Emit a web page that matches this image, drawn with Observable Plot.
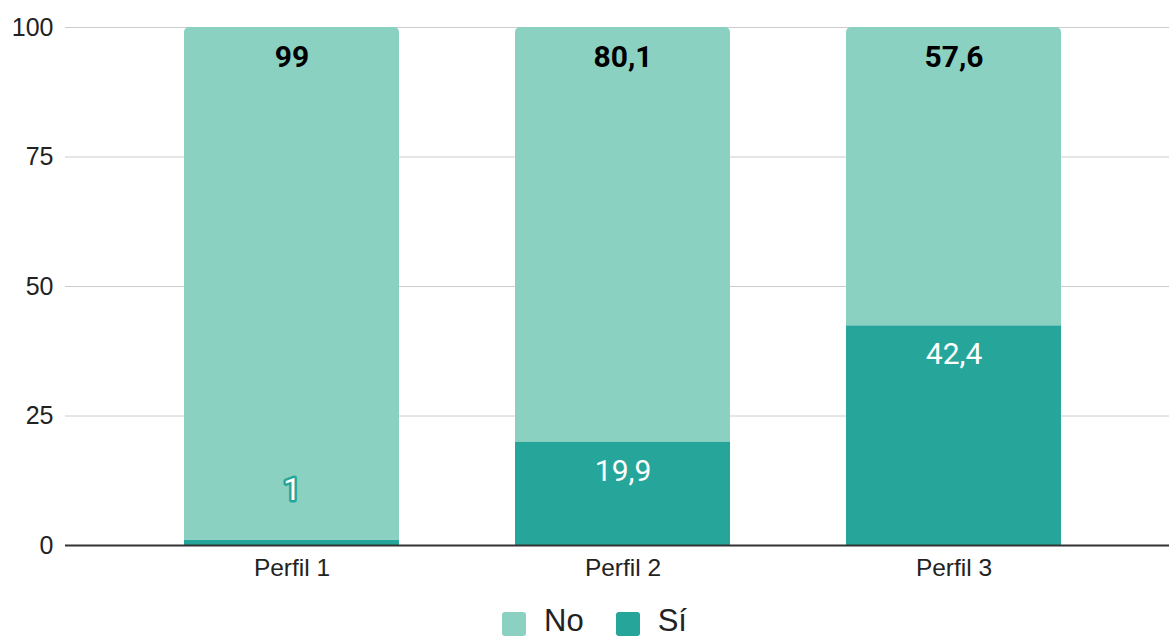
<!DOCTYPE html>
<html>
<head>
<meta charset="utf-8">
<script src="https://cdn.jsdelivr.net/npm/d3@7"></script>
<script src="https://cdn.jsdelivr.net/npm/@observablehq/plot@0.6"></script>
<style>
  html, body { margin: 0; padding: 0; background: #fff; }
  #chart { width: 1169px; }
  .legend { display: flex; justify-content: center; align-items: center; height: 30px; line-height: 30px; margin-top: 6px;
            padding-left: 20px; box-sizing: border-box; width: 1169px;
            font-family: "Liberation Sans", Arial, sans-serif; font-size: 31px; color: #222; }
  .legend .item { display: flex; align-items: center; margin: 0 16px; }
  .legend .sw { width: 24px; height: 24px; border-radius: 3px; margin-right: 18px; position: relative; top: 3px; }
</style>
</head>
<body>
<div id="chart"></div>
<script>
const categories = ["Perfil 1", "Perfil 2", "Perfil 3"];
const siValues = [1, 19.9, 42.4];
const noValues = [99, 80.1, 57.6];
const seriesNames = ["No", "Sí"];
const seriesColors = ["#8bd1c2", "#26a69a"];
const yTicks = [0, 25, 50, 75, 100];

const rows = categories.map((c, i) => ({perfil: c, si: siValues[i], no: noValues[i], total: siValues[i] + noValues[i]}));
const fmt = v => String(v).replace(".", ",");

const W = 1169, H = 600;
const plot = Plot.plot({
  width: W,
  height: H,
  marginLeft: 65,
  marginRight: 0,
  marginTop: 27,
  marginBottom: 55,
  style: {fontFamily: "'Liberation Sans', Arial, sans-serif", fontSize: "24px", color: "#222", background: "#fff"},
  x: {domain: categories, range: [124.5, 1120.3], paddingInner: 0.3513, paddingOuter: 0.1757, label: null},
  y: {domain: [0, 100], ticks: yTicks, label: null},
  color: {domain: seriesNames, range: seriesColors},
  marks: [
    Plot.gridY(yTicks, {stroke: "#cccccc", strokeOpacity: 1, strokeWidth: 1}),
    Plot.axisY(yTicks, {tickSize: 0, tickPadding: 12, tickFormat: d => d, fontSize: 25, fill: "#222"}),
    Plot.axisX({tickSize: 0, tickPadding: 13, fontSize: 24.5, fill: "#222"}),
    Plot.barY(rows, {x: "perfil", y1: "si", y2: "total", fill: () => "No", ry1: 5}),
    Plot.barY(rows, {x: "perfil", y1: 0, y2: "si", fill: () => "Sí"}),
    Plot.ruleY([0], {stroke: "#333", strokeWidth: 2}),
    Plot.text(rows, {x: "perfil", y: "total", text: d => fmt(d.no), dy: 30, fill: "#000", fontWeight: "bold", fontSize: 30, fontFamily: "Roboto"}),
    Plot.text(rows.filter(d => d.si >= 5), {x: "perfil", y: "si", text: d => fmt(d.si), dy: 29, fill: "#fff", fontSize: 30, fontFamily: "Roboto"}),
    Plot.text(rows.filter(d => d.si < 5), {x: "perfil", y: "si", text: d => fmt(d.si), dy: -50, fill: "#fff", stroke: "#26a69a", strokeWidth: 5, paintOrder: "stroke", fontSize: 31, fontFamily: "Roboto"})
  ]
});
const chart = document.getElementById("chart");
chart.appendChild(plot);

const legend = document.createElement("div");
legend.className = "legend";
seriesNames.forEach((n, i) => {
  const it = document.createElement("div");
  it.className = "item";
  const sw = document.createElement("span");
  sw.className = "sw";
  sw.style.background = seriesColors[i];
  const t = document.createElement("span");
  t.textContent = n;
  it.appendChild(sw); it.appendChild(t);
  legend.appendChild(it);
});
chart.appendChild(legend);
</script>
</body>
</html>
